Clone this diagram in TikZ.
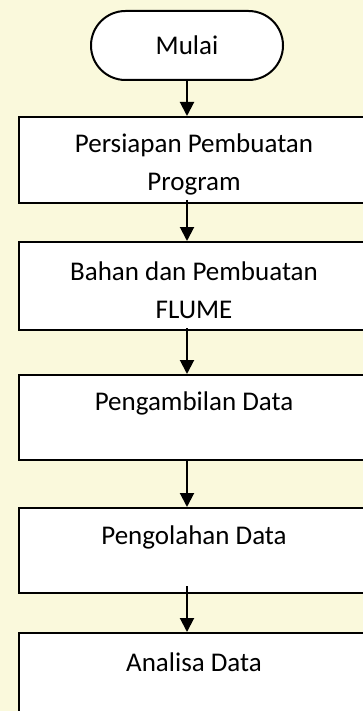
\documentclass[tikz,border=0pt]{standalone}
\usepackage{fontspec}
\setmainfont{Carlito}
\usetikzlibrary{arrows.meta,shapes.misc}
\definecolor{bgcream}{RGB}{250,249,220}
\tikzset{
  boxst/.style={draw=black, line width=2pt, fill=white, minimum width=353pt, inner sep=0pt},
  termst/.style={draw=black, line width=2pt, fill=white, rounded rectangle, minimum width=192pt, minimum height=69pt, inner sep=0pt},
  txt/.style={font=\fontsize{27}{38}\selectfont, align=center, inner sep=0pt},
  arr/.style={line width=2pt, -{Triangle[width=14pt,length=14pt]}}
}
\begin{document}
\begin{tikzpicture}[x=1pt,y=-1pt]
\useasboundingbox (0,0) rectangle (363,711);
\clip (0,0) rectangle (363,711);
\fill[bgcream] (0,0) rectangle (363,711);
\node[termst, font=\fontsize{27}{30}\selectfont] (m) at (187,45.5) {Mulai};
\node[boxst, minimum height=86pt] (b1) at (195.5,160) {};
\node[txt] (t1) at (194,164) {Persiapan Pembuatan\\Program};
\node[boxst, minimum height=88pt] (b2) at (195.5,286) {};
\node[txt] (t2) at (194,290) {Bahan dan Pembuatan\\FLUME};
\node[boxst, minimum height=85pt] (b3) at (195.5,417.5) {};
\node[txt] (t3) at (194,403) {Pengambilan Data};
\node[boxst, minimum height=85pt] (b4) at (195.5,550.5) {};
\node[txt] (t4) at (194,537) {Pengolahan Data};
\node[boxst, minimum height=85pt] (b5) at (195.5,675.5) {};
\node[txt] (t5) at (194,662) {Analisa Data};
\draw[arr] (m.south) -- (b1.north -| m.south);
\draw[arr] ([yshift=4pt]b1.south -| m.south) -- (b2.north -| m.south);
\draw[arr] ([yshift=3pt]b2.south -| m.south) -- (b3.north -| m.south);
\draw[arr] (b3.south -| m.south) -- (b4.north -| m.south);
\draw[arr] ([yshift=8pt]b4.south -| m.south) -- (b5.north -| m.south);
\end{tikzpicture}
\end{document}
